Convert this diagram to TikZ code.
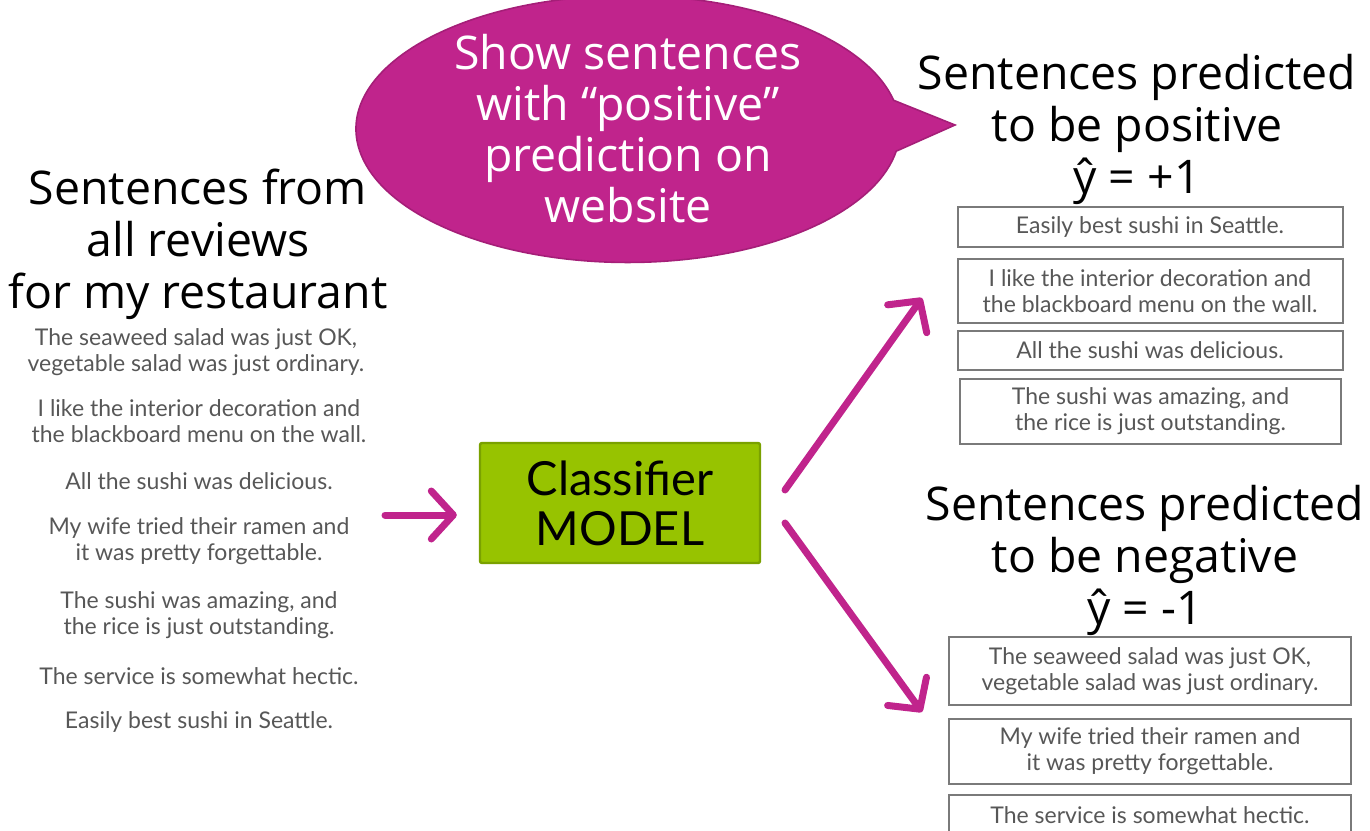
\documentclass[tikz,border=0pt]{standalone}
\usepackage{fontspec}
\setmainfont{Open Sans}
\newfontfamily\reviewfont{Lato}
\usepackage{tikz}
\usetikzlibrary{shapes.geometric, shapes.callouts, arrows.meta, positioning}
\definecolor{plum}{HTML}{C0248C}
\definecolor{plumedge}{HTML}{A51E78}
\definecolor{leaf}{HTML}{97C300}
\definecolor{leafedge}{HTML}{7AA100}
\definecolor{reviewgray}{HTML}{575757}
\definecolor{boxgray}{HTML}{7A7A7A}
\tikzstyle{heading}  = [align=center, inner sep=0pt, font=\fontsize{23.2}{26}\selectfont, text=black]
\tikzstyle{review}   = [align=center, inner sep=0pt, font=\reviewfont\fontsize{11.5}{13}\selectfont, text=reviewgray]
\tikzstyle{posbox}   = [review, rectangle, draw=boxgray, line width=1pt, minimum width=192.5pt]
\tikzstyle{negbox}   = [review, rectangle, draw=boxgray, line width=1pt, minimum width=201pt]
\tikzstyle{model}    = [rectangle, rounded corners=1pt, draw=leafedge, line width=1.2pt, fill=leaf, minimum width=140pt, minimum height=60pt, align=center, font=\reviewfont\fontsize{23.5}{25}\selectfont]
\tikzstyle{bubble}   = [ellipse callout, draw=plumedge, line width=0.8pt, fill=plum, text=white, minimum width=272pt, minimum height=126pt, inner sep=0pt, align=center, callout pointer arc=22, font=\fontsize{23.2}{25.5}\selectfont]
\tikzstyle{arrow}    = [line width=3.5pt, plum, line cap=round, -{Straight Barb[round, length=11pt, width=24pt]}]

\begin{document}
\begin{tikzpicture}[x=0.5pt, y=-0.5pt]
      \useasboundingbox (0,0) rectangle (1370,830);
      % Nodes
      %% All reviews
      \node (all_heading)      [heading] at (198,244) {Sentences from\\all reviews\\for my restaurant};
      \node (all_seaweed)      [review]  at (196,352) {The seaweed salad was just OK,\\vegetable salad was just ordinary.};
      \node (all_decor)        [review]  at (199,421) {I like the interior decoration and\\the blackboard menu on the wall.};
      \node (all_delicious)    [review]  at (199,481) {All the sushi was delicious.};
      \node (all_ramen)        [review]  at (199,541) {My wife tried their ramen and\\it was pretty forgettable.};
      \node (all_amazing)      [review]  at (199,615) {The sushi was amazing, and\\the rice is just outstanding.};
      \node (all_service)      [review]  at (199,676) {The service is somewhat hectic.};
      \node (all_best)         [review]  at (199,722) {Easily best sushi in Seattle.};
      %% Classifier
      \node (classifier)       [model]   at (620,503) {Classifier\\MODEL};
      %% Positive side
      \coordinate (bubble_tip) at (955,125);
      \node (show_bubble)      [bubble, callout absolute pointer={(bubble_tip)}] at (628,129) {Show sentences\\with “positive”\\prediction on\\website};
      \node (pos_heading)      [heading] at (1137,129) {Sentences predicted\\to be positive\\ŷ = +1};
      \node (pos_best)         [posbox, minimum height=20pt]   at (1150,227)   {Easily best sushi in Seattle.};
      \node (pos_decor)        [posbox, minimum height=32pt]   at (1150,291)   {I like the interior decoration and\\the blackboard menu on the wall.};
      \node (pos_delicious)    [posbox, minimum height=19.5pt] at (1150,350.5) {All the sushi was delicious.};
      \node (pos_amazing)      [posbox, minimum height=32.5pt, minimum width=190.5pt] at (1150.5,411.5) {The sushi was amazing, and\\the rice is just outstanding.};
      %% Negative side
      \node (neg_heading)      [heading] at (1145,560) {Sentences predicted\\to be negative\\ŷ = -1};
      \node (neg_seaweed)      [negbox, minimum height=34pt]   at (1150,671)   {The seaweed salad was just OK,\\vegetable salad was just ordinary.};
      \node (neg_ramen)        [negbox, minimum height=32.5pt] at (1150,751.5) {My wife tried their ramen and\\it was pretty forgettable.};
      \node (neg_service)      [negbox, minimum height=20pt]   at (1150,815)   {The service is somewhat hectic.};

      % % Arrows
      \coordinate (feed)     at (385,515);
      \coordinate (split_up) at (785,490);
      \coordinate (split_dn) at (785,523);
      \coordinate (to_pos)   at (922,298);
      \coordinate (to_neg)   at (922,712);
      \draw [arrow, shorten >=11pt] (feed) -- (feed -| classifier.west);
      \draw [arrow] (split_up) -- (to_pos);
      \draw [arrow] (split_dn) -- (to_neg);
    \end{tikzpicture}
\end{document}
